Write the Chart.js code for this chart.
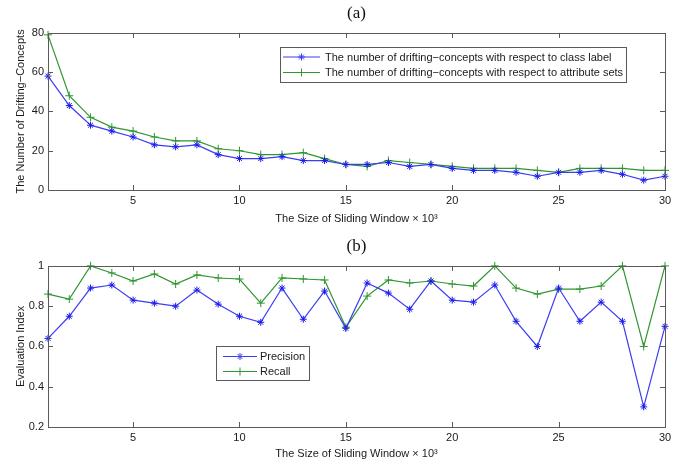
<!DOCTYPE html>
<html>
<head>
<meta charset="utf-8">
<script src="https://cdn.jsdelivr.net/npm/chart.js@4/dist/chart.umd.min.js"></script>
<style>
  html, body { margin: 0; padding: 0; background: #ffffff; }
  #wrap { position: relative; width: 686px; height: 464px; overflow: hidden; }
  .pane { position: absolute; left: 0; width: 686px; height: 232px; }
  #paneA { top: 0; }
  #paneB { top: 232px; }
</style>
</head>
<body>
<div id="wrap">
  <div class="pane" id="paneA"><canvas id="chartA" width="686" height="232"></canvas></div>
  <div class="pane" id="paneB"><canvas id="chartB" width="686" height="232"></canvas></div>
</div>
<script>
// ---- data ----
const windowSizes = [1,2,3,4,5,6,7,8,9,10,11,12,13,14,15,16,17,18,19,20,21,22,23,24,25,26,27,28,29,30];
const classLabelDrifts = [58,43,33,30,27,23,22,23,18,16,16,17,15,15,13,13,14,12,13,11,10,10,9,7,9,9,10,8,5,7];
const attributeSetDrifts = [79,48,37,32,30,27,25,25,21,20,18,18,19,16,13,12,15,14,13,12,11,11,11,10,9,11,11,11,10,10];
const precision = [0.64,0.75,0.89,0.905,0.83,0.815,0.80,0.88,0.81,0.75,0.72,0.89,0.735,0.875,0.69,0.915,0.865,0.785,0.925,0.83,0.82,0.905,0.725,0.60,0.89,0.725,0.82,0.725,0.30,0.70];
const recall = [0.86,0.835,1.0,0.965,0.925,0.96,0.91,0.955,0.94,0.935,0.815,0.94,0.935,0.93,0.695,0.85,0.93,0.915,0.925,0.91,0.90,1.0,0.89,0.86,0.885,0.885,0.90,1.0,0.60,1.0];
const xTickValues = [5,10,15,20,25,30];
const yTickValuesA = [0,20,40,60,80];
const yTickValuesB = [0.2,0.4,0.6,0.8,1];
const labelClass = 'The number of drifting\u2212concepts with respect to class label';
const labelAttr = 'The number of drifting\u2212concepts with respect to attribute sets';
const labelPrecision = 'Precision';
const labelRecall = 'Recall';
const xTitle = 'The Size of Sliding Window \u00d7 10\u00b3';
const yTitleA = 'The Number of Drifting\u2212Concepts';
const yTitleB = 'Evaluation Index';

// ---- styles ----
const BLUE = '#3c3cf5';
const BLUE_PT = '#1a1aee';
const GREEN = '#2f962f';
const FRAME = '#5a5a5a';
const SANS = "'Liberation Sans', Arial, sans-serif";
const SERIF = "'Liberation Serif', 'Times New Roman', serif";

function pts(ys) { return windowSizes.map((x, i) => ({x: x, y: ys[i]})); }

const frameTicks = {
  id: 'frameTicks',
  afterDatasetsDraw(chart, args, opts) {
    const {ctx, chartArea: a, scales} = chart;
    const L = 5;
    ctx.save();
    ctx.strokeStyle = FRAME;
    ctx.lineWidth = 1;
    ctx.beginPath();
    scales.x.ticks.forEach(t => {
      const px = Math.round(scales.x.getPixelForValue(t.value)) + 0.5;
      ctx.moveTo(px, a.bottom); ctx.lineTo(px, a.bottom - L);
      ctx.moveTo(px, a.top); ctx.lineTo(px, a.top + L);
    });
    scales.y.ticks.forEach(t => {
      const py = Math.round(scales.y.getPixelForValue(t.value)) + 0.5;
      ctx.moveTo(a.left, py); ctx.lineTo(a.left + L, py);
      ctx.moveTo(a.right, py); ctx.lineTo(a.right - L, py);
    });
    ctx.stroke();
    ctx.strokeRect(Math.round(a.left) + 0.5, Math.round(a.top) + 0.5, Math.round(a.right - a.left), Math.round(a.bottom - a.top));
    ctx.restore();
  }
};

const boxLegend = {
  id: 'boxLegend',
  afterDraw(chart, args, opts) {
    const {ctx} = chart;
    ctx.save();
    ctx.fillStyle = '#ffffff';
    ctx.fillRect(opts.x, opts.y, opts.w, opts.h);
    ctx.strokeStyle = FRAME;
    ctx.lineWidth = 1;
    ctx.strokeRect(opts.x + 0.5, opts.y + 0.5, opts.w, opts.h);
    ctx.font = '11px ' + SANS;
    ctx.textBaseline = 'middle';
    ctx.textAlign = 'left';
    chart.data.datasets.forEach((ds, i) => {
      const cy = opts.rows[i];
      ctx.strokeStyle = ds.borderColor;
      ctx.lineWidth = 1;
      ctx.beginPath();
      ctx.moveTo(opts.lineX0, cy + 0.5);
      ctx.lineTo(opts.lineX1, cy + 0.5);
      ctx.stroke();
      Chart.helpers.drawPoint(ctx, {
        pointStyle: ds.pointStyle, radius: ds.pointRadius, rotation: 0, borderWidth: 1
      }, (opts.lineX0 + opts.lineX1) / 2, cy + 0.5);
      ctx.fillStyle = '#1a1a1a';
      ctx.fillText(ds.label, opts.textX, cy + 1);
    });
    ctx.restore();
  }
};
// fix drawPoint colours
const _drawPoint = Chart.helpers.drawPoint;

function makeChart(id, cfg) {
  return new Chart(document.getElementById(id), {
    type: 'line',
    data: { datasets: cfg.datasets },
    options: {
      responsive: false,
      animation: false,
      layout: { padding: { left: 0, right: 21, top: 0, bottom: 0 } },
      plugins: {
        legend: { display: false },
        tooltip: { enabled: false },
        title: {
          display: true, text: cfg.title, fullSize: false,
          color: '#111', font: { family: SERIF, size: 17, weight: 'normal' },
          padding: cfg.titlePad
        },
        boxLegend: cfg.legend
      },
      scales: {
        x: {
          type: 'linear', min: 1, max: 30,
          afterBuildTicks: s => { s.ticks = xTickValues.map(v => ({value: v})); },
          afterFit: s => { s.height = cfg.xHeight; },
          grid: { display: false, drawTicks: false },
          border: { display: false },
          ticks: { color: '#1a1a1a', font: { family: SANS, size: 11 }, padding: 4, maxRotation: 0 },
          title: { display: true, text: xTitle, color: '#1a1a1a', font: { family: SANS, size: 11 }, padding: { top: 0, bottom: cfg.xTitlePad } }
        },
        y: {
          type: 'linear', min: cfg.yMin, max: cfg.yMax,
          afterBuildTicks: s => { s.ticks = cfg.yTicks.map(v => ({value: v})); },
          afterFit: s => { s.width = 48; },
          grid: { display: false, drawTicks: false },
          border: { display: false },
          ticks: { color: '#1a1a1a', font: { family: SANS, size: 11 }, padding: 4, callback: v => String(v) },
          title: { display: true, text: cfg.yTitle, color: '#1a1a1a', font: { family: SANS, size: 11 }, padding: { top: 14, bottom: 0 } }
        }
      }
    },
    plugins: [frameTicks, boxLegend]
  });
}

function lineDs(label, ys, color, ptColor, style, r) {
  return {
    label: label, data: pts(ys),
    borderColor: color, borderWidth: 1.2,
    pointStyle: style, pointRadius: r, pointBorderColor: ptColor, pointBackgroundColor: ptColor,
    pointBorderWidth: 1, tension: 0, clip: false, fill: false
  };
}

Chart.helpers.drawPoint = function(ctx, o, x, y) {
  return _drawPoint.call(this, ctx, o, x, y);
};

makeChart('chartA', {
  title: '(a)',
  titlePad: { top: 3, bottom: 9.5 },
  xHeight: 42, xTitlePad: 6,
  yMin: 0, yMax: 80, yTicks: yTickValuesA, yTitle: yTitleA,
  datasets: [
    lineDs(labelClass, classLabelDrifts, BLUE, BLUE_PT, 'star', 3.5),
    lineDs(labelAttr, attributeSetDrifts, GREEN, GREEN, 'cross', 4)
  ],
  legend: { x: 280, y: 47, w: 346, h: 35, rows: [56.5, 72], lineX0: 283, lineX1: 320, textX: 325 }
});

makeChart('chartB', {
  title: '(b)',
  titlePad: { top: 4.5, bottom: 9 },
  xHeight: 37, xTitlePad: 3.5,
  yMin: 0.2, yMax: 1, yTicks: yTickValuesB, yTitle: yTitleB,
  datasets: [
    lineDs(labelPrecision, precision, BLUE, BLUE_PT, 'star', 3.5),
    lineDs(labelRecall, recall, GREEN, GREEN, 'cross', 4)
  ],
  legend: { x: 216, y: 114, w: 93, h: 34, rows: [124, 139], lineX0: 223, lineX1: 257, textX: 260 }
});
</script>
</body>
</html>
